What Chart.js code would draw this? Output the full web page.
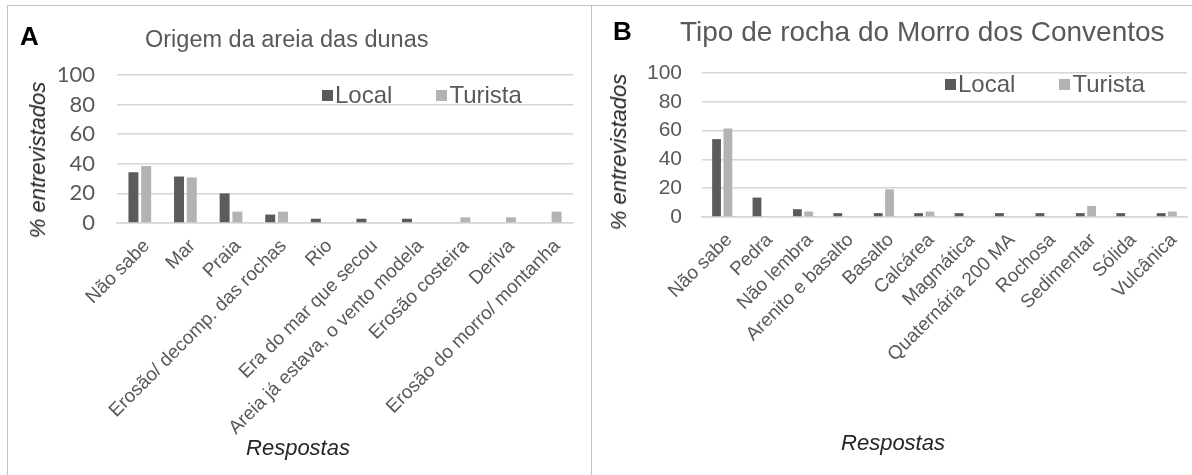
<!DOCTYPE html>
<html>
<head>
<meta charset="utf-8">
<script src="https://cdn.jsdelivr.net/npm/chart.js@4.4.1/dist/chart.umd.min.js"></script>
<style>
  body { margin: 0; background: #fff; font-family: 'Liberation Sans', Arial, sans-serif; }
  #wrap { position: relative; width: 1192px; height: 475px; overflow: hidden; }
  .frame { position: absolute; top: 5px; left: 7px; width: 1200px; height: 480px; border: 1.5px solid #c4c4c4; box-sizing: border-box; }
  .divider { position: absolute; left: 591px; top: 5px; height: 470px; border-left: 1.5px solid #c4c4c4; }
  canvas { position: absolute; top: 0; }
  #chartA { left: 0; }
  #chartB { left: 592px; }
  .letter { position: absolute; font-weight: bold; font-size: 26px; color: #000; }
  .title { position: absolute; color: #595959; white-space: nowrap; }
  .legend { position: absolute; color: #595959; font-size: 24px; white-space: nowrap; }
  .legend span.sw { display: inline-block; width: 11px; height: 11px; margin-right: 2px; vertical-align: 2px; }
  .legend span.item { margin-right: 44px; }
  .axt { position: absolute; color: #262626; font-size: 22px; font-style: italic; white-space: nowrap; transform: translate(-50%, -50%); }
  .axt.rot { transform: translate(-50%, -50%) rotate(-90deg); }
</style>
</head>
<body>
<div id="wrap">
  <div class="frame"></div>
  <div class="divider"></div>
  <canvas id="chartA" width="592" height="475"></canvas>
  <canvas id="chartB" width="600" height="475"></canvas>
  <div class="letter" style="left:20px;top:21px;">A</div>
  <div class="title" style="left:145px;top:26px;font-size:23.5px;">Origem da areia das dunas</div>
  <div class="legend" id="legendA" style="left:322px;top:81px;"></div>
  <div class="axt rot" style="left:38px;top:160px;">% entrevistados</div>
  <div class="axt" style="left:298px;top:448px;">Respostas</div>
  <div class="letter" style="left:613px;top:16px;">B</div>
  <div class="title" style="left:680px;top:16px;font-size:28px;">Tipo de rocha do Morro dos Conventos</div>
  <div class="legend" id="legendB" style="left:945px;top:70px;"></div>
  <div class="axt rot" style="left:619px;top:152px;">% entrevistados</div>
  <div class="axt" style="left:893px;top:443px;">Respostas</div>
</div>
<script>
// Painel A - origem da areia das dunas
const labelsA = ['Não sabe', 'Mar', 'Praia', 'Erosão/ decomp. das rochas', 'Rio', 'Era do mar que secou',
  'Areia já estava, o vento modela', 'Erosão costeira', 'Deriva', 'Erosão do morro/ montanha'];
const localA = [34.3, 31.4, 20, 5.7, 2.9, 2.9, 2.9, 0, 0, 0];
const turistaA = [38.5, 30.8, 7.7, 7.7, 0, 0, 0, 3.8, 3.8, 7.7];

// Painel B - tipo de rocha do Morro dos Conventos
const labelsB = ['Não sabe', 'Pedra', 'Não lembra', 'Arenito e basalto', 'Basalto', 'Calcárea', 'Magmática',
  'Quaternária 200 MA', 'Rochosa', 'Sedimentar', 'Sólida', 'Vulcânica'];
const localB = [54.1, 13.5, 5.4, 2.7, 2.7, 2.7, 2.7, 2.7, 2.7, 2.7, 2.7, 2.7];
const turistaB = [61.5, 0, 3.8, 0, 19.2, 3.8, 0, 0, 0, 7.7, 0, 3.8];

const yTicks = [0, 20, 40, 60, 80, 100];
const seriesNames = ['Local', 'Turista'];
const seriesColors = ['#5b5b5b', '#b3b3b3'];

Chart.defaults.font.family = "'Liberation Sans', Arial, sans-serif";

function renderLegend(id) {
  document.getElementById(id).innerHTML = seriesNames.map((n, i) =>
    `<span class="item"><span class="sw" style="background:${seriesColors[i]}"></span>${n}</span>`
  ).join('');
}

function renderPanel(id, labels, local, turista, o) {
  new Chart(document.getElementById(id), {
    type: 'bar',
    data: {
      labels,
      datasets: [
        { label: seriesNames[0], data: local, backgroundColor: seriesColors[0] },
        { label: seriesNames[1], data: turista, backgroundColor: seriesColors[1] },
      ],
    },
    options: {
      responsive: false,
      animation: false,
      layout: { padding: o.padding },
      datasets: { bar: { categoryPercentage: 0.56, barPercentage: 0.78 } },
      plugins: { legend: { display: false }, tooltip: { enabled: false } },
      scales: {
        x: {
          grid: { display: false },
          border: { color: '#d6d6d6', width: 1.5 },
          ticks: { color: '#595959', font: { size: 19 }, maxRotation: 45, minRotation: 45, autoSkip: false, padding: 4, labelOffset: 7 },
          afterFit: s => { s.height = o.xHeight; },
        },
        y: {
          min: 0,
          max: 100,
          afterBuildTicks: s => { s.ticks = yTicks.map(v => ({ value: v })); },
          ticks: { color: '#595959', font: o.yFont, padding: o.yPad },
          grid: { color: '#d6d6d6', lineWidth: 1.5, drawTicks: false },
          border: { display: false },
          afterFit: s => { s.width = o.yWidth; },
        },
      },
    },
  });
}

renderLegend('legendA');
renderLegend('legendB');

renderPanel('chartA', labelsA, localA, turistaA, {
  padding: { left: 0, top: 75, right: 19, bottom: 0 },
  yWidth: 117, yPad: 22, yFont: { family: 'Lato', size: 22 },
  xHeight: 475 - 75 - 148,
});

renderPanel('chartB', labelsB, localB, turistaB, {
  padding: { left: 0, top: 73, right: 5, bottom: 0 },
  yWidth: 110, yPad: 20, yFont: { size: 21 },
  xHeight: 475 - 73 - 144,
});
</script>
</body>
</html>
